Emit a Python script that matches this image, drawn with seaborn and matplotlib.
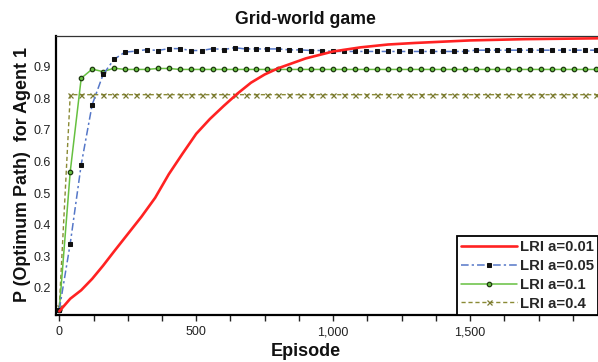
import numpy as np
import pandas as pd
import matplotlib
matplotlib.use("Agg")
import matplotlib.pyplot as plt
from matplotlib.ticker import MultipleLocator, FuncFormatter
import seaborn as sns

# Episodes sampled every 40 steps for the marked series
episodes = list(range(0, 2001, 40))

lri_005 = ([0.13, 0.34, 0.59, 0.78, 0.876, 0.924, 0.947, 0.95, 0.955, 0.952,
            0.958, 0.958, 0.952, 0.952, 0.958, 0.955, 0.961, 0.957, 0.957, 0.957,
            0.957, 0.954, 0.954, 0.952, 0.952]
           + [0.949] * 13 + [0.953] * 13)
lri_01 = ([0.13, 0.568, 0.864, 0.893, 0.885, 0.896, 0.892, 0.892, 0.892, 0.895, 0.895]
          + [0.892] * 40)
lri_04 = [0.14] + [0.812] * 50

# Slow learner (a=0.01), sampled along its curve
episodes_001 = [0, 40, 80, 120, 160, 200, 250, 300, 350, 400, 450, 500, 550, 600,
                650, 700, 750, 800, 900, 1000, 1100, 1200, 1300, 1400, 1500,
                1600, 1700, 1800, 1900, 2000]
lri_001 = [0.125, 0.165, 0.192, 0.228, 0.27, 0.315, 0.37, 0.425, 0.485, 0.56,
           0.625, 0.688, 0.735, 0.776, 0.815, 0.85, 0.876, 0.896, 0.927, 0.949,
           0.962, 0.971, 0.976, 0.98, 0.984, 0.986, 0.988, 0.989, 0.99, 0.991]

labels = ["LRI a=0.01", "LRI a=0.05", "LRI a=0.1", "LRI a=0.4"]

sns.set_theme(style="white")
plt.rcParams["font.family"] = ["Liberation Sans", "DejaVu Sans"]

fig = plt.figure(figsize=(5.98, 3.62), dpi=100)
W, H = 598, 362
ax = fig.add_axes([56 / W, 1 - 314.5 / H, 1 - 56 / W, (314.5 - 36) / H])

df_marked = pd.DataFrame({"Episode": episodes, "a005": lri_005, "a01": lri_01, "a04": lri_04})
df_slow = pd.DataFrame({"Episode": episodes_001, "a001": lri_001})

sns.lineplot(data=df_marked, x="Episode", y="a04", ax=ax, color="#8a8a35",
             linestyle=(0, (3, 2)), linewidth=1.0, marker="x", markersize=3.6,
             markeredgewidth=0.9, markeredgecolor="#7a7a30", label=labels[3], zorder=2)
sns.lineplot(data=df_marked, x="Episode", y="a01", ax=ax, color="#66c040",
             linewidth=1.1, marker="o", markersize=3.2, markerfacecolor="#66c040",
             markeredgecolor="#1e3a10", markeredgewidth=0.9, label=labels[2], zorder=3)
sns.lineplot(data=df_marked, x="Episode", y="a005", ax=ax, color="#5577c8",
             linestyle=(0, (5, 2, 1.5, 2)), linewidth=1.1, marker="s", markersize=2.6,
             markerfacecolor="#111111", markeredgecolor="#111111", label=labels[1], zorder=4)
sns.lineplot(data=df_slow, x="Episode", y="a001", ax=ax, color="#ff2222",
             linewidth=1.9, label=labels[0], zorder=5)

ax.set_xlim(-12, 1967)
ax.set_ylim(0.115, 0.998)
ax.set_xlabel("")
ax.set_ylabel("")

ax.xaxis.set_major_locator(MultipleLocator(500))
ax.xaxis.set_minor_locator(MultipleLocator(125))
ax.xaxis.set_major_formatter(FuncFormatter(lambda v, p: f"{int(v):,}"))
ax.set_yticks([0.2, 0.3, 0.4, 0.5, 0.6, 0.7, 0.8, 0.9])
ax.yaxis.set_major_formatter(FuncFormatter(lambda v, p: f"{v:.1f}"))

ax.tick_params(axis="x", which="both", direction="out", length=4, width=1,
               color="#222222", bottom=True, labelsize=9, labelcolor="#222222", pad=4.5)
ax.tick_params(axis="y", which="both", length=0, labelsize=9, labelcolor="#222222", pad=3.5)

for side in ["left", "bottom"]:
    ax.spines[side].set_color("black")
    ax.spines[side].set_linewidth(1.6)
ax.spines["top"].set_color("#333333")
ax.spines["top"].set_linewidth(0.9)
ax.spines["right"].set_visible(False)

# Legend in the lower right, ordered slow-to-fast learning rate
handles, lbls = ax.get_legend_handles_labels()
order = [lbls.index(l) for l in labels]
leg = ax.legend([handles[i] for i in order], [lbls[i] for i in order],
                loc="lower left", bbox_to_anchor=(456.5 / W, 1 - 315 / H),
                bbox_transform=fig.transFigure, frameon=True, fancybox=False,
                edgecolor="black", framealpha=1, borderpad=0.3, handlelength=3.8,
                handletextpad=0.15, labelspacing=0.32, borderaxespad=0,
                prop={"weight": "bold", "size": 10.7})
leg.get_frame().set_linewidth(1.3)
leg.set_zorder(10)

fig.text(305.5 / W, 1 - 19 / H, "Grid-world game", ha="center", va="center",
         fontsize=12.7, fontweight="bold", color="#111111")
fig.text(305.5 / W, 1 - 352 / H, "Episode", ha="center", va="center",
         fontsize=13, fontweight="bold", color="#111111")
fig.text(23 / W, 1 - 175 / H, "P (Optimum Path)  for Agent 1", ha="center", va="center",
         rotation=90, fontsize=12.9, fontweight="bold", color="#111111")

fig.savefig("out.png", dpi=100)
